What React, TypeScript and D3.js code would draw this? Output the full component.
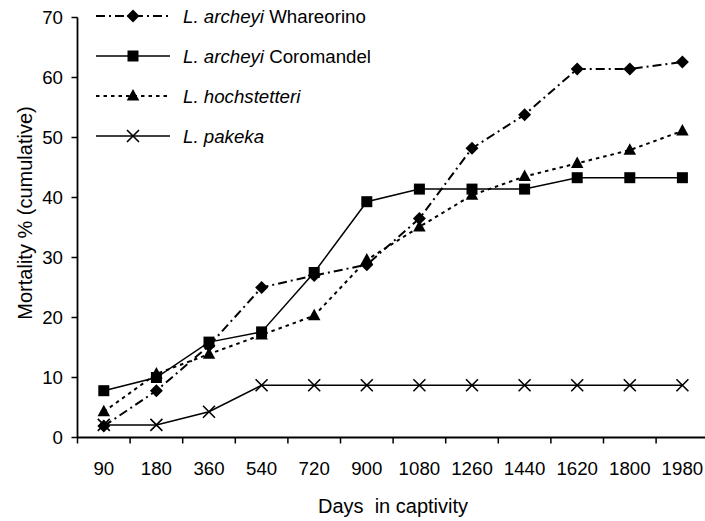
import React from "react";
import * as d3 from "d3";

const categories = ["90", "180", "360", "540", "720", "900", "1080", "1260", "1440", "1620", "1800", "1980"];
const whareorino = [1.9, 7.8, 15.3, 25.0, 27.0, 28.8, 36.5, 48.2, 53.8, 61.4, 61.4, 62.6];
const coromandel = [7.8, 10.0, 15.9, 17.6, 27.5, 39.3, 41.4, 41.4, 41.4, 43.3, 43.3, 43.3];
const hochstetteri = [4.3, 10.6, 13.9, 17.1, 20.3, 29.6, 35.1, 40.4, 43.5, 45.7, 47.9, 51.1];
const pakeka = [2.1, 2.1, 4.3, 8.7, 8.7, 8.7, 8.7, 8.7, 8.7, 8.7, 8.7, 8.7];
const yTicks = [0, 10, 20, 30, 40, 50, 60, 70];

type Series = { italic: string; plain: string; values: number[]; marker: string; dash: string; width: number };
const series: Series[] = [
  { italic: "L. archeyi", plain: " Whareorino", values: whareorino, marker: "diamond", dash: "9 4 2 4", width: 2 },
  { italic: "L. archeyi", plain: " Coromandel", values: coromandel, marker: "square", dash: "", width: 1.5 },
  { italic: "L. hochstetteri", plain: "", values: hochstetteri, marker: "triangle", dash: "3.5 4", width: 2 },
  { italic: "L. pakeka", plain: "", values: pakeka, marker: "cross", dash: "", width: 1.5 },
];

const W = 705, H = 521;
const x0 = 77.5, band = 52.6;
const x = d3.scaleBand<string>().domain(categories).range([x0, x0 + band * categories.length]).paddingInner(0).paddingOuter(0);
const y = d3.scaleLinear().domain([0, 70]).range([437.5, 17.5]);
const FONT = "Arial, 'Liberation Sans', sans-serif";
const FS = 18.7;
const FS_TITLE = 20;

function Marker({ type, cx, cy }: { type: string; cx: number; cy: number }) {
  if (type === "diamond") {
    const r = 6.5;
    return <path d={`M${cx},${cy - r}L${cx + r},${cy}L${cx},${cy + r}L${cx - r},${cy}Z`} fill="#000" />;
  }
  if (type === "square") {
    const s = 11;
    return <rect x={cx - s / 2} y={cy - s / 2} width={s} height={s} fill="#000" />;
  }
  if (type === "triangle") {
    const w = 12.5, h = 11.5;
    return <path d={`M${cx},${cy - h * 0.6}L${cx + w / 2},${cy + h * 0.4}L${cx - w / 2},${cy + h * 0.4}Z`} fill="#000" />;
  }
  const r = 6;
  return <path d={`M${cx - r},${cy - r}L${cx + r},${cy + r}M${cx - r},${cy + r}L${cx + r},${cy - r}`} stroke="#000" strokeWidth={1.6} fill="none" />;
}

export default function App() {
  const cx = (c: string) => (x(c) as number) + x.bandwidth() / 2;
  const line = d3.line<number>().x((_, i) => cx(categories[i])).y((v) => y(v));
  const tickXs = [...categories.map((c) => x(c) as number), x0 + band * categories.length];
  const legendRows = [16, 56, 96, 136];
  return (
    <svg width={W} height={H} style={{ position: "absolute", left: 0, top: 0, background: "#fff" }} fontFamily={FONT}>
      <rect width={W} height={H} fill="#fff" />
      <line x1={x0} x2={x0} y1={y(70)} y2={y(0)} stroke="#000" strokeWidth={1.8} />
      <line x1={x0} x2={x0 + band * categories.length} y1={y(0)} y2={y(0)} stroke="#000" strokeWidth={1.8} />
      {yTicks.map((t) => (
        <g key={t}>
          <line x1={x0 - 6} x2={x0} y1={y(t)} y2={y(t)} stroke="#000" strokeWidth={1.5} />
          <text x={63} y={y(t)} dy="0.36em" textAnchor="end" fontSize={FS}>{t}</text>
        </g>
      ))}
      {tickXs.map((tx, i) => (
        <line key={i} x1={tx} x2={tx} y1={y(0)} y2={y(0) + 6} stroke="#000" strokeWidth={1.5} />
      ))}
      {categories.map((c) => (
        <text key={c} x={cx(c)} y={475} textAnchor="middle" fontSize={FS}>{c}</text>
      ))}
      <text x={393} y={513} textAnchor="middle" fontSize={FS_TITLE} style={{ whiteSpace: "pre" }}>{"Days  in captivity"}</text>
      <text transform={`translate(32,213) rotate(-90)`} textAnchor="middle" fontSize={FS_TITLE}>Mortality % (cumulative)</text>
      {series.map((s, si) => (
        <g key={si}>
          <path d={line(s.values) || ""} fill="none" stroke="#000" strokeWidth={s.width} strokeDasharray={s.dash || undefined} />
          {s.values.map((v, i) => (
            <Marker key={i} type={s.marker} cx={cx(categories[i])} cy={y(v)} />
          ))}
        </g>
      ))}
      {series.map((s, si) => (
        <g key={"l" + si}>
          <line x1={96} x2={170} y1={legendRows[si]} y2={legendRows[si]} stroke="#000" strokeWidth={s.width} strokeDasharray={s.dash || undefined} />
          <Marker type={s.marker} cx={133} cy={legendRows[si]} />
          <text x={183} y={legendRows[si]} dy="0.36em" fontSize={FS} style={{ whiteSpace: "pre" }}>
            <tspan fontStyle="italic">{s.italic}</tspan>
            {s.plain && <tspan>{s.plain}</tspan>}
          </text>
        </g>
      ))}
    </svg>
  );
}
